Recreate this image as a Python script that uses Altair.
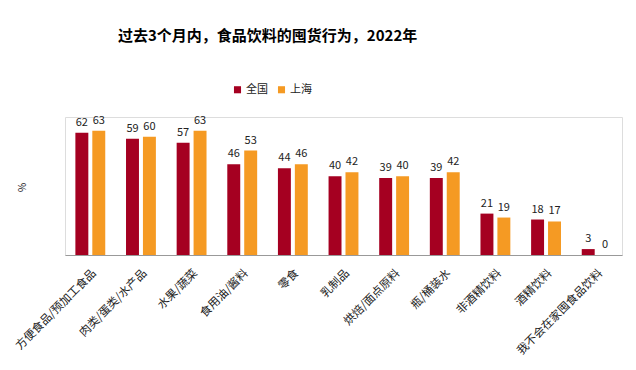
import altair as alt
import pandas as pd

categories = ["方便食品/预加工食品", "肉类/蛋类/水产品", "水果/蔬菜", "食用油/酱料", "零食",
              "乳制品", "烘焙/面点原料", "瓶/桶装水", "非酒精饮料", "酒精饮料", "我不会在家囤食品饮料"]
national = [62, 59, 57, 46, 44, 40, 39, 39, 21, 18, 3]
shanghai = [63, 60, 63, 53, 46, 42, 40, 42, 19, 17, 0]
series = ["全国", "上海"]
colors = ["#A50021", "#F59A23"]

rows = []
for c, a, b in zip(categories, national, shanghai):
    rows.append({"cat": c, "series": "全国", "value": a})
    rows.append({"cat": c, "series": "上海", "value": b})
df = pd.DataFrame(rows)

FONT = "Noto Sans CJK SC"

x = alt.X("cat:N", sort=categories, title=None,
          scale=alt.Scale(paddingInner=0.41, paddingOuter=0.205),
          axis=alt.Axis(labelAngle=-45, labelFontSize=11.5, labelColor="#222", labelFont=FONT,
                        ticks=False, domainColor="#999", labelPadding=12, labelLimit=300))
xo = alt.XOffset("series:N", sort=series, scale=alt.Scale(paddingInner=0.235, paddingOuter=0))
y = alt.Y("value:Q", scale=alt.Scale(domain=[0, 70], nice=False),
          axis=alt.Axis(labels=False, ticks=False, domain=False, grid=False, title="%",
                        titleFontSize=10, titleFontWeight="normal", titleFont=FONT,
                        titleX=-38, titleY=70, titleColor="#222"))

bars = alt.Chart(df).mark_bar().encode(
    x=x, xOffset=xo, y=y,
    color=alt.Color("series:N", sort=series, scale=alt.Scale(domain=series, range=colors),
                    legend=alt.Legend(title=None, orient="none", legendX=167, legendY=-33,
                                      direction="horizontal", symbolType="square", symbolSize=50,
                                      labelFontSize=11, labelFont=FONT, labelColor="#222",
                                      columnPadding=8, labelOffset=3, symbolStrokeWidth=0)),
)
labels = alt.Chart(df).mark_text(baseline="bottom", dy=-5, fontSize=11, font=FONT, color="#222").encode(
    x=x, xOffset=xo, y=y, text="value:Q")

chart = alt.layer(bars, labels).properties(
    width=557, height=138,
    title=alt.Title("过去3个月内，食品饮料的囤货行为，2022年", anchor="start", dx=53, offset=40,
                    fontSize=15, fontWeight="bold", font=FONT, color="#000", frame="group"),
    autosize=alt.AutoSizeParams(type="none"),
    padding={"left": 57, "top": 109, "right": 6, "bottom": 112},
).configure_view(stroke=None).configure(background="white")

chart.save("out.html", embed_options={"renderer": "svg", "actions": False})
